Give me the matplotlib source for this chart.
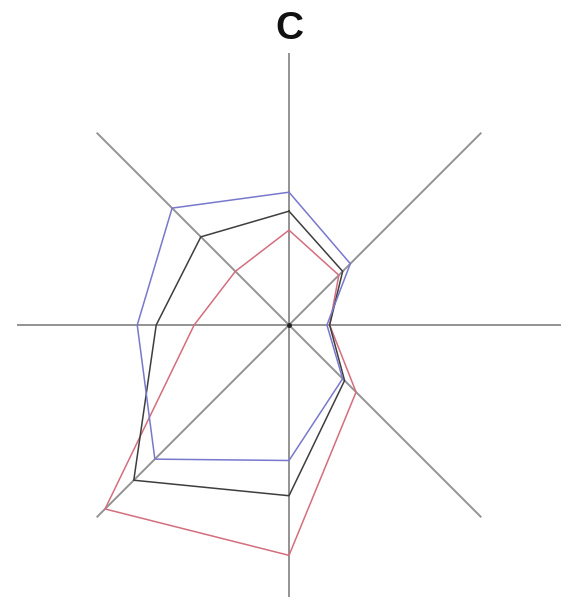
import matplotlib.pyplot as plt
import numpy as np

# radar chart "C", 8 spokes, 3 series (values on a 0-100 scale, spoke = 100)

angles_deg = [90, 135, 180, 225, 270, 315, 0, 45]
blue_vals = [49, 61, 56, 70, 50, 28, 14, 32]
black_vals = [42, 46, 49, 81, 63, 29, 15, 28]
red_vals = [35, 28, 35, 96, 85, 35, 15, 26]
title = "C"

spoke_len = 100
px_per_unit = 2.71
cx, cy = 289, 325

fig = plt.figure(figsize=(5.63, 6.01), dpi=100)
ax = fig.add_axes([0, 0, 1, 1])

theta = np.radians(angles_deg)
for t in theta:
    ax.plot([0, spoke_len*np.cos(t)], [0, spoke_len*np.sin(t)], color='#939393', lw=1.4, zorder=1)

def poly(vals, color):
    v = np.array(vals + vals[:1], dtype=float)
    t = np.append(theta, theta[0])
    ax.plot(v*np.cos(t), v*np.sin(t), color=color, lw=1.1, zorder=2)

poly(red_vals, '#d46e7e')
poly(black_vals, '#3e3e3e')
poly(blue_vals, '#7878cc')

ax.plot([0], [0], marker='o', ms=2.5, color='#222222', zorder=3)

ax.set_xlim(-cx/px_per_unit, (563-cx)/px_per_unit)
ax.set_ylim((cy-601)/px_per_unit, cy/px_per_unit)
ax.axis('off')

ax.text(0, (cy-29)/px_per_unit, title, ha='center', va='center',
        fontsize=28, fontweight='bold', family='Liberation Sans', color='#111111')

fig.savefig('out.png', dpi=100)
